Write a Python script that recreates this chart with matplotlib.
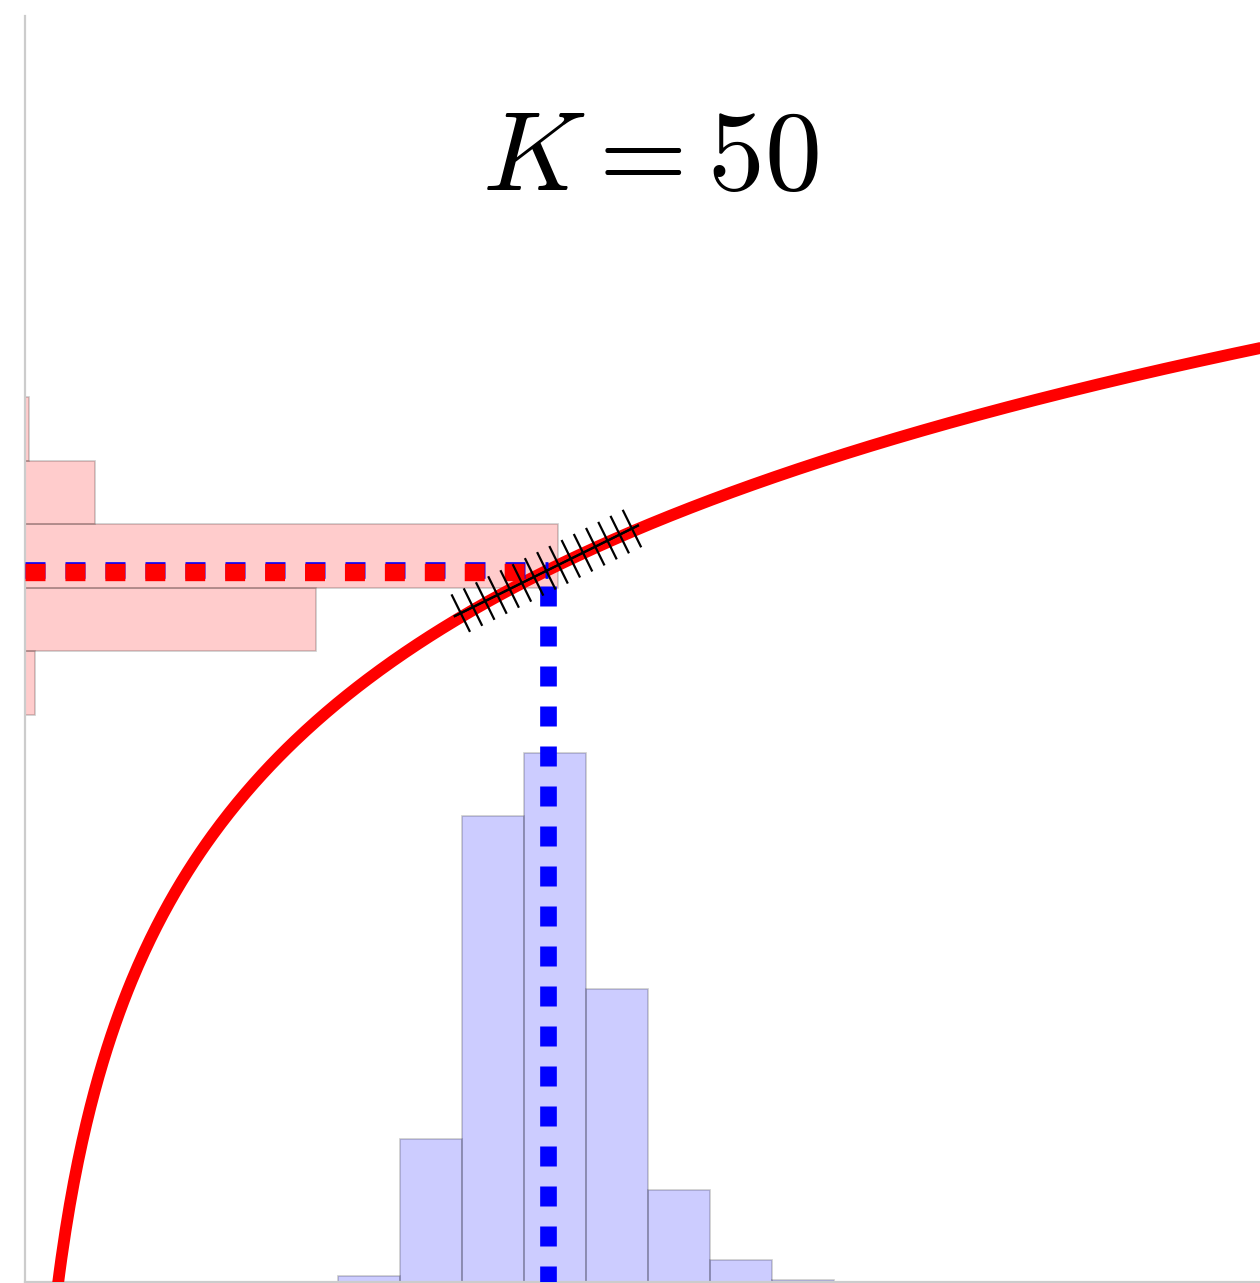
import numpy as np
import matplotlib
matplotlib.use("Agg")
import matplotlib.pyplot as plt
from matplotlib import patheffects

plt.rcParams['mathtext.fontset'] = 'cm'

# samples of x (blue) and of log(x) (red), binned
blue_edges = [29.9, 35.9, 41.8, 47.7, 53.6, 59.6, 65.5, 71.4, 77.4]
blue_counts = [3, 71, 232, 263, 146, 46, 11, 1]
red_edges = [3.351, 3.597, 3.843, 4.089, 4.335, 4.581]
red_counts = [5, 145, 265, 35, 2]

mean_x = 50.0          # mean of the x samples
mean_logx = 3.904      # mean of log(x) samples
K = 50

xlim = (0, 120)
ylim = (1.156, 6.057)

fig = plt.figure(figsize=(12.6, 12.83), dpi=100)
rect = [25 / 1260, 1 / 1283, 1255 / 1260, 1266 / 1283]

ax_r = fig.add_axes(rect)
ax_b = fig.add_axes(rect)
ax = fig.add_axes(rect)

# horizontal histogram of log(x)
ax_r.barh(red_edges[:-1], red_counts, height=np.diff(red_edges), align='edge',
          color='red', edgecolor='black', linewidth=1.2, alpha=0.2)
ax_r.set_xlim(0, 624.4)
ax_r.set_ylim(*ylim)
ax_r.axis('off')

# histogram of x
ax_b.bar(blue_edges[:-1], blue_counts, width=np.diff(blue_edges), align='edge',
         color='blue', edgecolor='black', linewidth=1.2, alpha=0.2)
ax_b.set_xlim(*xlim)
ax_b.set_ylim(0, 630)
ax_b.axis('off')

# the transform y = log(x)
xs = np.linspace(2.5, 121, 600)
ax.plot(xs, np.log(xs), color='red', lw=8.5, solid_capstyle='butt', zorder=3)

# mean lines
ax.plot([xlim[0], mean_x], [np.log(mean_x)] * 2, color='blue', lw=12,
        linestyle=(0, (1.2, 1.2)), zorder=4)
ax.plot([xlim[0], np.exp(mean_logx)], [mean_logx] * 2, color='red', lw=12.5,
        linestyle=(0, (1.15, 1.15)), zorder=5)
ax.plot([mean_x, mean_x], [ylim[0], np.log(mean_x)], color='blue', lw=12,
        linestyle=(0.24, (1.2, 1.2)), zorder=4)

# tangent at the mean, drawn as ticks only
tx = np.array([41.1, 58.6])
ty = np.log(mean_x) + (tx - mean_x) / mean_x
ax.plot(tx, ty, color='black', lw=1.6, zorder=6,
        path_effects=[patheffects.withTickedStroke(angle=90, spacing=9.5, length=1.5),
                      patheffects.withTickedStroke(angle=-90, spacing=9.5, length=1.5)])

ax.set_xlim(*xlim)
ax.set_ylim(*ylim)
ax.patch.set_visible(False)
for side in ['top', 'right']:
    ax.spines[side].set_visible(False)
for side in ['left', 'bottom']:
    ax.spines[side].set_color('#cccccc')
    ax.spines[side].set_linewidth(1.6)
ax.set_xticks([])
ax.set_yticks([])

fig.text(650 / 1260, (1283 - 190) / 1283, r'$K = %d$' % K, ha='center',
         va='baseline', fontsize=82)

fig.savefig('out.png', dpi=100)
